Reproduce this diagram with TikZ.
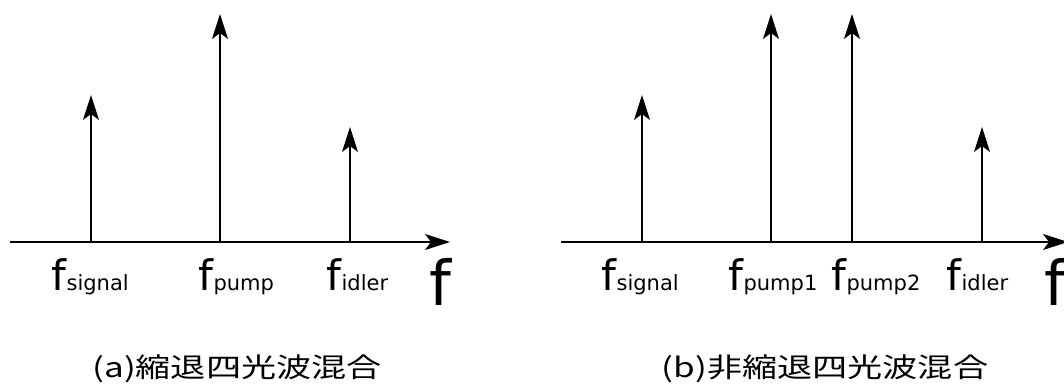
\documentclass[tikz,border=0pt]{standalone}
\usepackage{fontspec}
\setmainfont{DejaVu Sans}
\newfontfamily\jpfont{Noto Sans CJK JP}
\usetikzlibrary{arrows.meta}
\newcommand{\freq}[1]{{\fontsize{42}{42}\selectfont f}{\fontsize{21}{21}\selectfont #1}}
\newcommand{\captext}[1]{\scalebox{1.3}[1]{\jpfont\fontsize{27}{27}\selectfont #1}}

\begin{document}
\begin{tikzpicture}[x=1pt, y=1pt, >={Stealth[length=25pt, width=16pt, inset=6pt]}, line width=1.6pt, every node/.style={inner sep=0pt}]
	\useasboundingbox (0,0) rectangle (1064,383);
	% (a) degenerate
	\coordinate (a0) at (10,141); \coordinate (a1) at (450,141);
	\draw[->] (a0) -- (a1);
	\foreach \n/\x/\y in {as/91/288, ap/220/369, ai/350/256} {\coordinate (\n0) at (\x,141); \coordinate (\n1) at (\x,\y); \draw[->] (\n0) -- (\n1);}
	\node[anchor=base west] (las) at (51,93) {\freq{signal}};
	\node[anchor=base west] (lap) at (198,93) {\freq{pump}};
	\node[anchor=base west] (lai) at (326,93) {\freq{idler}};
	\node[anchor=base west, font=\fontsize{62}{62}\selectfont] (fa) at (429,78) {f};
	\node[anchor=base] (capa) at (237,6) {\captext{(a)縮退四光波混合}};
	% (b) non-degenerate
	\coordinate (b0) at (561,141); \coordinate (b1) at (1068,141);
	\draw[->] (b0) -- (b1);
	\foreach \n/\x/\y in {bs/642/288, bp/771/369, bq/852/369, bi/982/256} {\coordinate (\n0) at (\x,141); \coordinate (\n1) at (\x,\y); \draw[->] (\n0) -- (\n1);}
	\node[anchor=base west] (lbs) at (601,93) {\freq{signal}};
	\node[anchor=base west] (lbp) at (728,93) {\freq{pump1}};
	\node[anchor=base west] (lbq) at (831,93) {\freq{pump2}};
	\node[anchor=base west] (lbi) at (946,93) {\freq{idler}};
	\node[anchor=base west, font=\fontsize{62}{62}\selectfont] (fb) at (1044,78) {f};
	\node[anchor=base] (capb) at (825,6) {\captext{(b)非縮退四光波混合}};
\end{tikzpicture}
\end{document}
